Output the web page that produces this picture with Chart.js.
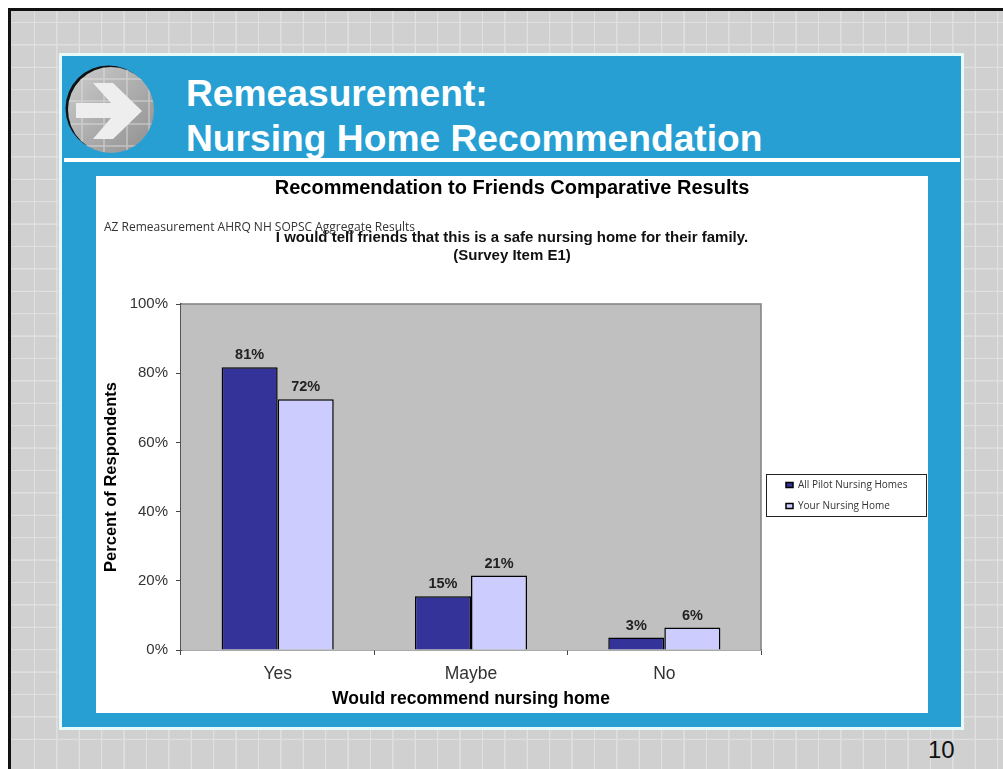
<!DOCTYPE html>
<html>
<head>
<meta charset="utf-8">
<title>Nursing Home Recommendation</title>
<script src="https://cdn.jsdelivr.net/npm/chart.js@4"></script>
<style>
    html, body { margin: 0; padding: 0; background: #fff; }
    body { width: 1003px; height: 769px; overflow: hidden; position: relative; font-family: "Liberation Sans", Arial, sans-serif; }
    .slide {
        position: absolute; left: 8px; top: 8px; right: 0; bottom: 0;
        border-left: 3px solid #111; border-top: 3px solid #111;
        background-color: #d0d0d0;
        background-image:
            repeating-linear-gradient(90deg, transparent 0, transparent 20.6px, #dedede 21px, #e2e2e2 21.8px, transparent 22.4px),
            repeating-linear-gradient(180deg, transparent 0, transparent 20.6px, #dedede 21px, #e0e0e0 21.8px, transparent 22.4px);
        background-position: 2px 0, 0 -10px;
    }
    .panel {
        position: absolute; left: 59px; top: 53px; width: 899px; height: 671px;
        background: #279fd3; border: 3.5px solid #e6fafa;
    }
    .rule { position: absolute; left: 64px; top: 158px; width: 896px; height: 4px; background: #fff; }
    .heading { position: absolute; left: 186px; top: 71px; color: #fff; font-weight: bold; font-size: 37.2px; line-height: 45px; white-space: nowrap; }
    .icon { position: absolute; left: 56px; top: 56px; }
    .card { position: absolute; left: 96px; top: 176px; width: 832px; height: 537px; background: #fff; }
    .note { position: absolute; left: 104px; top: 218px; font: 12px "Open Sans", sans-serif; color: #333; white-space: nowrap; }
    .pageno { position: absolute; left: 928px; top: 736px; font-size: 24px; color: #111; }
</style>
</head>
<body>
<div class="slide"></div>
<div class="panel"></div>
<svg class="icon" width="110" height="110" viewBox="56 56 110 110">
    <defs>
        <linearGradient id="disc" x1="0" y1="0" x2="1" y2="1">
            <stop offset="0" stop-color="#cdcdcd"/>
            <stop offset="1" stop-color="#8f8f8f"/>
        </linearGradient>
        <clipPath id="discClip"><circle cx="111" cy="110" r="43"/></clipPath>
    </defs>
    <circle cx="108.5" cy="108.5" r="43" fill="#111"/>
    <circle cx="111" cy="110" r="43" fill="url(#disc)"/>
    <g clip-path="url(#discClip)" stroke="#e2e2e2" stroke-width="1.5" opacity="0.55">
        <path d="M82 60V160M104 60V160M127 60V160M149 60V160M60 79H160M60 101H160M60 124H160M60 146H160"/>
    </g>
    <polygon points="76,103 111,103 93,83 113,83 142,111 113,139 93,139 111,118 76,118" fill="#eeeeee"/>
</svg>
<div class="heading">Remeasurement:<br>Nursing Home Recommendation</div>
<div class="rule"></div>
<div class="card"><canvas id="resultsChart" width="832" height="537"></canvas></div>
<div class="note">AZ Remeasurement AHRQ NH SOPSC Aggregate Results</div>
<div class="pageno">10</div>

<script>
let categories = ['Yes', 'Maybe', 'No'];
let pilotValues = [81.7, 15.5, 3.6];
let yourValues = [72.5, 21.5, 6.5];
let pilotLabels = ['81%', '15%', '3%'];
let yourLabels = ['72%', '21%', '6%'];
let seriesNames = ['All Pilot Nursing Homes', 'Your Nursing Home'];

const plotBackground = {
    id: 'plotBackground',
    beforeDatasetsDraw(chart) {
        const { ctx, chartArea: a } = chart;
        ctx.save();
        ctx.fillStyle = '#c0c0c0';
        ctx.fillRect(a.left, a.top, a.width, a.height);
        ctx.strokeStyle = '#808080';
        ctx.lineWidth = 1.5;
        ctx.beginPath();
        ctx.moveTo(a.left, a.top);
        ctx.lineTo(a.right, a.top);
        ctx.lineTo(a.right, a.bottom);
        ctx.stroke();
        ctx.restore();
    }
};

const barLabels = {
    id: 'barLabels',
    afterDatasetsDraw(chart) {
        const ctx = chart.ctx;
        const texts = [pilotLabels, yourLabels];
        ctx.save();
        ctx.font = 'bold 14.5px "Liberation Sans", Arial, sans-serif';
        ctx.fillStyle = '#222';
        ctx.textAlign = 'center';
        ctx.textBaseline = 'middle';
        chart.data.datasets.forEach((ds, i) => {
            chart.getDatasetMeta(i).data.forEach((bar, j) => {
                ctx.fillText(texts[i][j], bar.x, bar.y - 12);
            });
        });
        ctx.restore();
    }
};

// legend sits outside the plot, so move it there once layout is done
// titles span the whole card, not just the space left of the legend
const legendBox = {
    id: 'legendBox',
    afterLayout(chart) {
        const legend = chart.legend;
        legend.left = 679;
        legend.top = 293;
        legend.right = chart.width;
        legend.bottom = chart.height;
        chart.boxes.filter(b => b.position === 'top').forEach(b => {
            b.left = 0;
            b.right = chart.width;
        });
    },
    afterDraw(chart) {
        const ctx = chart.ctx;
        ctx.save();
        ctx.strokeStyle = '#222';
        ctx.lineWidth = 1;
        ctx.strokeRect(670.5, 298.5, 160, 42);
        ctx.restore();
    }
};

new Chart(document.getElementById('resultsChart'), {
    type: 'bar',
    data: {
        labels: categories,
        datasets: [{
            label: seriesNames[0],
            data: pilotValues,
            backgroundColor: '#333399',
            borderColor: '#000',
            borderWidth: 1.5
        }, {
            label: seriesNames[1],
            data: yourValues,
            backgroundColor: '#ccccff',
            borderColor: '#000',
            borderWidth: 1.5
        }]
    },
    plugins: [plotBackground, barLabels, legendBox],
    options: {
        responsive: false,
        animation: false,
        categoryPercentage: 0.58,
        barPercentage: 1,
        layout: { padding: { right: 167, bottom: 0 } },
        plugins: {
            title: {
                display: true,
                text: 'Recommendation to Friends Comparative Results',
                color: '#000',
                font: { size: 20, weight: 'bold', family: '"Liberation Sans", Arial, sans-serif' },
                padding: { top: 0, bottom: 29 }
            },
            subtitle: {
                display: true,
                text: ['I would tell friends that this is a safe nursing home for their family.', '(Survey Item E1)'],
                color: '#111',
                font: { size: 15, weight: 'bold', lineHeight: 1.2, family: '"Liberation Sans", Arial, sans-serif' },
                padding: { top: 0, bottom: 39 }
            },
            legend: {
                display: true,
                position: 'chartArea',
                align: 'start',
                labels: {
                    boxWidth: 7,
                    boxHeight: 5,
                    padding: 11,
                    color: '#333',
                    font: { size: 10, family: '"Open Sans", sans-serif' }
                }
            },
            tooltip: { enabled: false }
        },
        scales: {
            x: {
                afterFit: (scale) => { scale.height = 63; },
                grid: { drawOnChartArea: false, tickColor: '#444', tickLength: 5 },
                border: { color: '#555', width: 1.5 },
                ticks: { color: '#333', padding: 9, font: { size: 17.5, family: '"Liberation Sans", Arial, sans-serif' } },
                title: {
                    display: true,
                    text: 'Would recommend nursing home',
                    color: '#000',
                    font: { size: 17.5, weight: 'bold', family: '"Liberation Sans", Arial, sans-serif' },
                    padding: { top: 0, bottom: 3 }
                }
            },
            y: {
                min: 0,
                max: 100,
                afterFit: (scale) => { scale.width = 85; },
                grid: { drawOnChartArea: false, tickColor: '#444', tickLength: 5 },
                border: { color: '#555', width: 2 },
                ticks: {
                    stepSize: 20,
                    color: '#333',
                    padding: 8,
                    font: { size: 15, family: '"Liberation Sans", Arial, sans-serif' },
                    callback: (v) => v + '%'
                },
                title: {
                    display: true,
                    text: 'Percent of Respondents',
                    color: '#000',
                    font: { size: 16.5, weight: 'bold', family: '"Liberation Sans", Arial, sans-serif' },
                    padding: { top: 6, bottom: 0 }
                }
            }
        }
    }
});
</script>
</body>
</html>
